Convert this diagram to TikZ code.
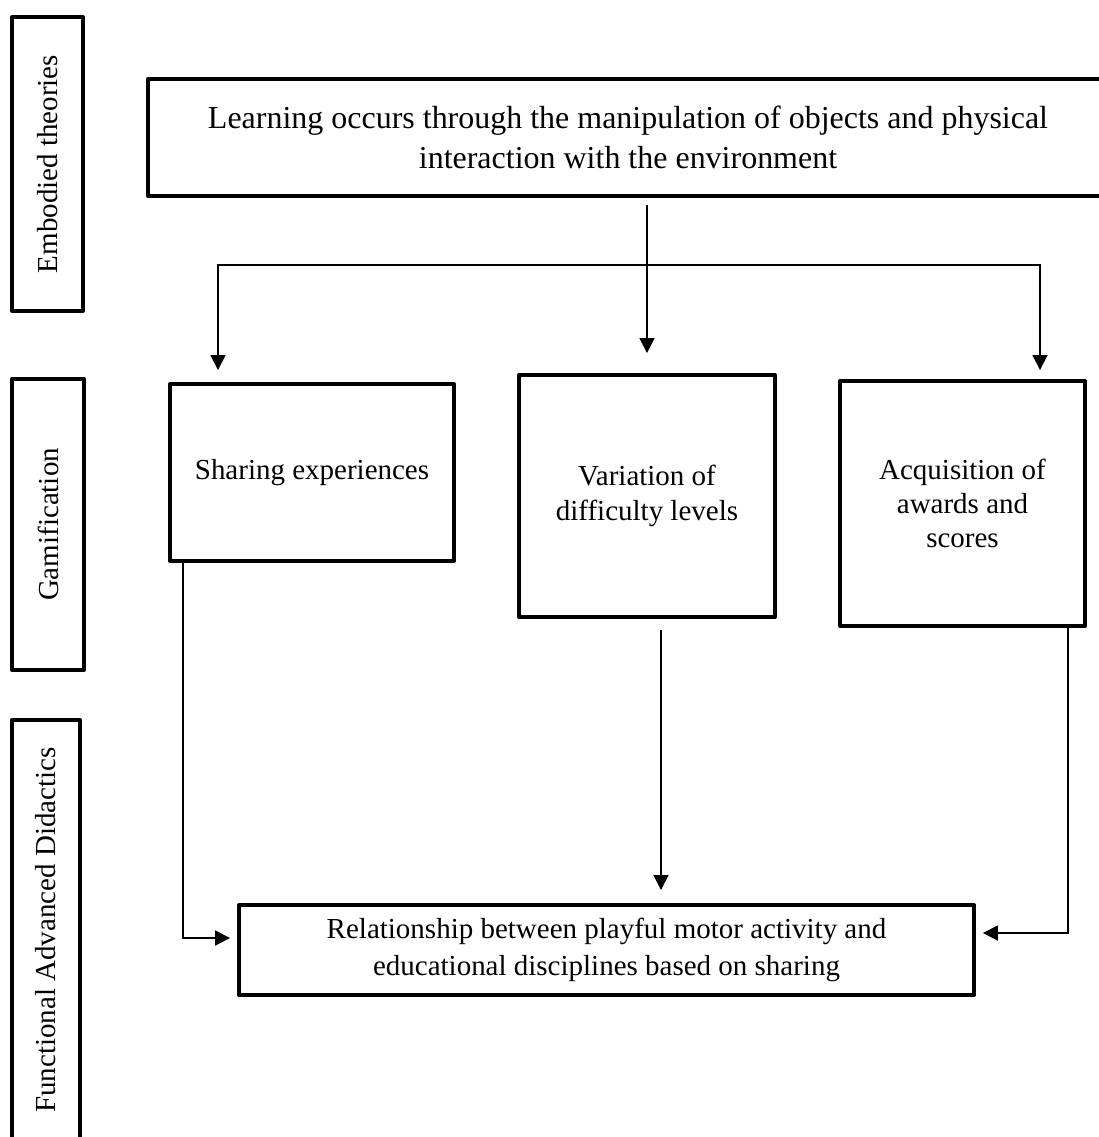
\documentclass[tikz,border=0pt]{standalone}
\usepackage{fontspec}
\setmainfont{Liberation Serif}
\usetikzlibrary{arrows.meta}

\begin{document}
\begin{tikzpicture}[x=0.02cm,y=-0.02cm,
  box/.style={draw,line width=0.08cm,line join=round,align=center,inner sep=0pt,
    font=\fontsize{16.5}{19.5}\selectfont},
  side/.style={box,rotate=90},
  link/.style={line width=0.035cm},
  arr/.style={link,-{Triangle[length=0.3cm,width=0.3cm]}}]
\useasboundingbox (0,0) rectangle (1099,1137);
\node[side,minimum width=5.88cm,minimum height=1.42cm] (embodied) at (47.5,164) {Embodied theories};
\node[side,minimum width=5.82cm,minimum height=1.44cm] (gamif) at (48,524.5) {Gamification};
\node[side,minimum width=8.4cm,minimum height=1.36cm] (didact) at (46,930) {Functional Advanced Didactics};
\node[box,minimum width=19.2cm,minimum height=2.34cm,font=\fontsize{18.2}{22.8}\selectfont] (learn) at (628,137.5)
  {Learning occurs through the manipulation of objects and physical\\interaction with the environment};
\node[box,minimum width=5.68cm,minimum height=3.54cm] (share) at (312,472.5) {Sharing experiences};
\node[box,minimum width=5.12cm,minimum height=4.84cm] (vary) at (647,496) {Variation of\\difficulty levels};
\node[box,minimum width=4.9cm,minimum height=4.9cm] (award) at (962.5,503.5) {Acquisition of\\awards and\\scores};
\node[box,minimum width=14.7cm,minimum height=1.8cm,font=\fontsize{16.5}{21.5}\selectfont] (relation) at (606.5,950)
  {Relationship between playful motor activity and\\educational disciplines based on sharing};
\coordinate (fork west) at (218,265);
\coordinate (fork east) at (1040,265);
\draw[arr,shorten <=0.14cm,shorten >=0.4cm] (vary.north |- learn.south) -- (vary.north);
\draw[link,{Triangle[length=0.3cm,width=0.3cm]}-{Triangle[length=0.3cm,width=0.3cm]},shorten <=0.24cm,shorten >=0.18cm]
  (fork west |- share.north) -- (fork west) -- (fork east) -- (fork east |- award.north);
\draw[arr,shorten >=0.14cm] ([xshift=0.3cm]share.south west) |- ([yshift=0.24cm]relation.west);
\draw[arr,shorten <=0.22cm,shorten >=0.26cm] ([xshift=0.28cm]vary.south) -- ([xshift=0.28cm]vary.south |- relation.north);
\draw[arr,shorten >=0.14cm] ([xshift=-0.38cm]award.south east) |- ([yshift=0.34cm]relation.east);
\end{tikzpicture}
\end{document}
